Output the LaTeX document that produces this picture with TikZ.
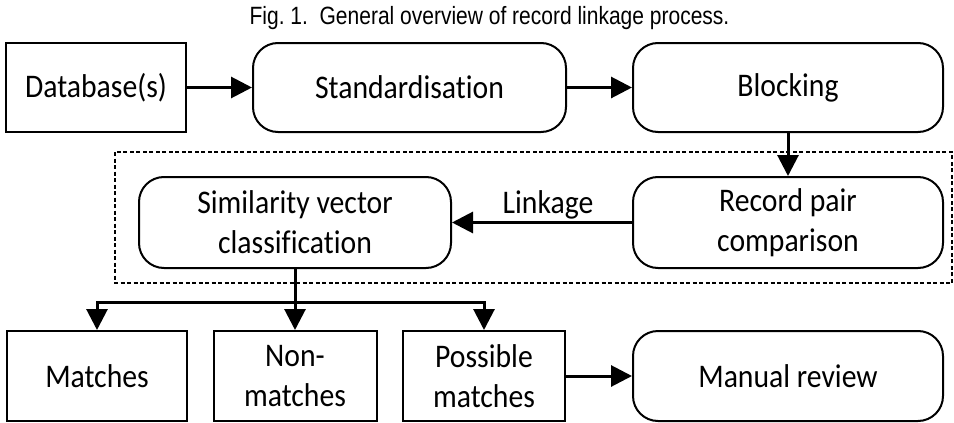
\documentclass[tikz,border=0pt]{standalone}
\usepackage{fontspec}
\setmainfont{Carlito}[Ligatures=NoCommon, FakeStretch=0.9]
\newfontfamily\titlefont[FakeStretch=0.84]{Liberation Sans}
\usetikzlibrary{arrows.meta}
\tikzset{
  box/.style={draw, line width=2pt, inner sep=0pt, align=center,
              font=\fontsize{33}{40}\selectfont},
  rbox/.style={box, rounded corners=25pt},
  arr/.style={line width=3pt, -{Triangle[length=21pt,width=21pt]}},
  frame/.style={line width=2pt, dash pattern=on 4pt off 2.5pt},
  lbl/.style={font=\fontsize{33}{40}\selectfont, inner sep=0pt}
}
\begin{document}
\begin{tikzpicture}[x=1pt,y=-1pt]
\useasboundingbox (0,0) rectangle (954,423);
\node[font=\titlefont\fontsize{25}{29}\selectfont, anchor=base, inner sep=0pt] (title) at (489.5,24) {Fig.~1.\ \ General overview of record linkage process.};

\draw[frame] (115,152) rectangle (952,283);

\node[box, minimum width=180pt, minimum height=89pt] (db) at (96,87.5) {Database(s)};
\node[rbox, minimum width=313pt, minimum height=89pt] (std) at (409.5,87.5) {Standardisation};
\node[rbox, minimum width=310pt, minimum height=89pt] (blk) at (788,87.5) {Blocking};

\node[rbox, minimum width=312pt, minimum height=91pt] (sim) at (295,222.5) {Similarity vector\\classification};
\node[rbox, minimum width=310pt, minimum height=91pt] (rpc) at (788,222.5) {Record pair\\comparison};

\node[box, minimum width=180pt, minimum height=90pt] (m) at (97,376) {Matches};
\node[box, minimum width=163pt, minimum height=90pt] (nm) at (295,376) {Non-\\matches};
\node[box, minimum width=162pt, minimum height=90pt] (pm) at (484,376) {Possible\\matches};
\node[rbox, minimum width=310pt, minimum height=90pt] (mr) at (788,376) {Manual review};

\node[lbl, anchor=base] (lk) at (548,213) {Linkage};

\coordinate (j) at (295,302);

\draw[arr] (db.east) -- (std.west);
\draw[arr] (std.east) -- (blk.west);
\draw[arr] (blk.south) -- (rpc.north);
\draw[arr] (rpc.west) -- (sim.east);
\draw[arr] (sim.south) -- (nm.north);
\draw[arr] (j) -| (m.north);
\draw[arr] (j) -| (pm.north);
\draw[arr] (pm.east) -- (mr.west);
\end{tikzpicture}
\end{document}
